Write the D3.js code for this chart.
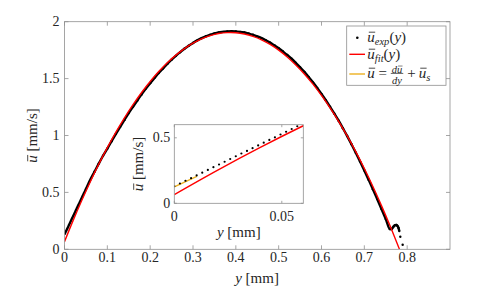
<!DOCTYPE html>
<html>
<head>
<meta charset="utf-8">
<script src="https://cdn.jsdelivr.net/npm/d3@7"></script>
<style>
  body { margin: 0; background: #fff; font-family: 'Liberation Serif', 'Times New Roman', serif; }
  svg { display: block; font-family: 'Liberation Serif', 'Times New Roman', serif; }
</style>
</head>
<body>
<div id="main"></div>
<script>
// fitted profile
const yFit = [0, 0.02, 0.04, 0.06, 0.08, 0.10, 0.12, 0.14, 0.16, 0.18, 0.20, 0.22, 0.24, 0.26, 0.28, 0.30,
  0.32, 0.34, 0.36, 0.38, 0.40, 0.42, 0.44, 0.46, 0.48, 0.50, 0.52, 0.54, 0.56, 0.58, 0.60, 0.62, 0.64,
  0.66, 0.68, 0.70, 0.72, 0.74, 0.76, 0.782]
const uFit = [0.067, 0.252, 0.427, 0.592, 0.748, 0.893, 1.029, 1.155, 1.271, 1.378, 1.475, 1.562, 1.639,
  1.706, 1.764, 1.811, 1.849, 1.877, 1.896, 1.904, 1.903, 1.892, 1.871, 1.841, 1.800, 1.750, 1.690, 1.620,
  1.541, 1.451, 1.352, 1.243, 1.125, 0.996, 0.858, 0.710, 0.552, 0.384, 0.207, 0.000]

// experimental points (dense near the wall, coarser elsewhere)
const yExp = [0, 0.0026, 0.0052, 0.0078, 0.0104, 0.013, 0.0156, 0.0182, 0.0208, 0.0234, 0.026, 0.0286,
  0.0312, 0.0338, 0.0364, 0.039, 0.0416, 0.0442, 0.0468, 0.0494, 0.052, 0.0546, 0.0572, 0.0598,
  0.07, 0.08, 0.09, 0.10, 0.11, 0.12, 0.13, 0.14, 0.15, 0.16, 0.17, 0.18, 0.19, 0.20, 0.21, 0.22, 0.23,
  0.24, 0.25, 0.26, 0.27, 0.28, 0.29, 0.30, 0.31, 0.32, 0.33, 0.34, 0.35, 0.36, 0.37, 0.38, 0.39, 0.40,
  0.41, 0.42, 0.43, 0.44, 0.45, 0.46, 0.47, 0.48, 0.49, 0.50, 0.51, 0.52, 0.53, 0.54, 0.55, 0.56, 0.57,
  0.58, 0.59, 0.60, 0.61, 0.62, 0.63, 0.64, 0.65, 0.66, 0.67, 0.68, 0.69, 0.70, 0.71, 0.72, 0.73, 0.74,
  0.75, 0.76, 0.7642, 0.7668, 0.7694, 0.772, 0.7746, 0.7772, 0.7798, 0.7816, 0.784, 0.7895]
const uExp = [0.130, 0.151, 0.172, 0.192, 0.213, 0.234, 0.255, 0.276, 0.296, 0.317, 0.338, 0.359,
  0.380, 0.400, 0.421, 0.442, 0.463, 0.484, 0.504, 0.525, 0.546, 0.567, 0.588, 0.608,
  0.681, 0.753, 0.822, 0.885, 0.950, 1.014, 1.076, 1.137, 1.197, 1.253, 1.308, 1.361, 1.412, 1.460,
  1.505, 1.549, 1.589, 1.629, 1.666, 1.700, 1.732, 1.762, 1.789, 1.813, 1.836, 1.855, 1.872, 1.885,
  1.897, 1.906, 1.911, 1.915, 1.916, 1.915, 1.911, 1.905, 1.896, 1.885, 1.871, 1.856, 1.837, 1.816,
  1.792, 1.767, 1.738, 1.708, 1.675, 1.638, 1.600, 1.559, 1.514, 1.467, 1.418, 1.365, 1.310, 1.252,
  1.192, 1.130, 1.064, 0.995, 0.923, 0.849, 0.772, 0.693, 0.611, 0.528, 0.442, 0.355, 0.267, 0.177,
  0.178, 0.193, 0.205, 0.212, 0.213, 0.206, 0.188, 0.160, 0.110, 0.040]

// linear wall fit  u = du/dy * y + u_s
const yLin = [0, 0.0105]
const uLin = [0.125, 0.206]

const xTicks = [0, 0.1, 0.2, 0.3, 0.4, 0.5, 0.6, 0.7, 0.8]
const yTicks = [0, 0.5, 1, 1.5, 2]
const insetXTicks = [0, 0.05]
const insetYTicks = [0, 0.5]

const W = 498, H = 291
const RED = '#ff0000', ORANGE = '#EDB120', AXIS = '#8f8f8f', INK = '#262626'
const FONT = "'Liberation Serif', 'Times New Roman', serif"

const svg = d3.select('#main').append('svg').attr('width', W).attr('height', H)
  .attr('font-family', FONT)

function txt(g, s, size, italic) {
  const t = g.append('text')
    .attr('font-family', FONT)
    .style('font-family', FONT)
    .style('font-size', size + 'px')
    .style('fill', INK)
    .text(s)
  if (italic) t.style('font-style', 'italic')
  return t
}

// little math typesetter: pieces laid out left to right
function mathText(g, parts, x0, y0, size) {
  let cx = x0
  parts.forEach(p => {
    if (p.frac) {
      const fs = size * 0.7
      const gn = g.append('g'), gd = g.append('g')
      const wn = mathText(gn, p.frac[0], 0, y0 - size * 0.33, fs)
      const wd = mathText(gd, p.frac[1], 0, y0 + size * 0.42, fs)
      const w = Math.max(wn, wd) + 2
      gn.attr('transform', `translate(${cx + (w - wn) / 2},0)`)
      gd.attr('transform', `translate(${cx + (w - wd) / 2},0)`)
      g.append('line').attr('x1', cx).attr('x2', cx + w)
        .attr('y1', y0 - size * 0.27).attr('y2', y0 - size * 0.27)
        .attr('stroke', INK).attr('stroke-width', 0.7)
      cx += w + 1
      return
    }
    if (p.space) { cx += p.space * size; return }
    const fs = p.sub ? size * 0.7 : size
    const ty = p.sub ? y0 + size * 0.2 : y0
    const t = txt(g, p.t, fs, p.i).attr('x', cx).attr('y', ty)
    const w = t.node().getComputedTextLength()
    if (p.bar) {
      g.append('line').attr('x1', cx + w * 0.2).attr('x2', cx + w * 1.05)
        .attr('y1', ty - fs * 0.62).attr('y2', ty - fs * 0.62)
        .attr('stroke', INK).attr('stroke-width', fs * 0.055)
    }
    cx += w
  })
  return cx - x0
}

function centered(g, parts, cx, y, size) {
  const inner = g.append('g')
  const w = mathText(inner, parts, 0, y, size)
  inner.attr('transform', `translate(${cx - w / 2},0)`)
  return inner
}

const uBar = {t: 'u', i: 1, bar: 1}
const yLabel = [uBar, {space: 0.25}, {t: '[mm/s]'}]
const xLabel = [{t: 'y', i: 1}, {space: 0.25}, {t: '[mm]'}]

function drawAxes(g, x, y, xt, yt, tl, padX, padY, size) {
  const [x0, x1] = x.range(), [y0, y1] = y.range()
  const ax = g.append('g')
  xt.forEach(v => {
    ax.append('line').attr('x1', x(v)).attr('x2', x(v)).attr('y1', y0).attr('y2', y0 - tl)
    ax.append('line').attr('x1', x(v)).attr('x2', x(v)).attr('y1', y1).attr('y2', y1 + tl)
    txt(g, String(v), size).attr('x', x(v)).attr('y', y0 + padX).attr('dy', '0.68em')
      .attr('text-anchor', 'middle')
  })
  yt.forEach(v => {
    ax.append('line').attr('x1', x0).attr('x2', x0 + tl).attr('y1', y(v)).attr('y2', y(v))
    ax.append('line').attr('x1', x1).attr('x2', x1 - tl).attr('y1', y(v)).attr('y2', y(v))
    txt(g, String(v), size).attr('x', x0 - padY).attr('y', y(v)).attr('dy', '0.33em')
      .attr('text-anchor', 'end')
  })
  ax.append('rect').attr('x', x0).attr('y', y1).attr('width', x1 - x0).attr('height', y0 - y1)
    .attr('fill', 'none')
  ax.selectAll('line,rect').attr('stroke', AXIS).attr('stroke-width', 0.8)
}

// ---------- main axes ----------
const x = d3.scaleLinear().domain([0, 0.9]).range([64.5, 450])
const y = d3.scaleLinear().domain([0, 2]).range([249.3, 21.7])

svg.append('clipPath').attr('id', 'clipMain').append('rect')
  .attr('x', 64.5).attr('y', 21.7).attr('width', 450 - 64.5).attr('height', 249.3 - 21.7)

const expPts = yExp.map((v, i) => [v, uExp[i]])
const fitPts = yFit.map((v, i) => [v, uFit[i]])
const linPts = yLin.map((v, i) => [v, uLin[i]])

const plot = svg.append('g').attr('clip-path', 'url(#clipMain)')
const lineMain = d3.line().x(d => x(d[0])).y(d => y(d[1]))

// dense dots look like a thick band
plot.append('path').datum(expPts.filter(d => d[0] <= 0.7816))
  .attr('d', lineMain.curve(d3.curveMonotoneX)).attr('fill', 'none')
  .attr('stroke', '#000').attr('stroke-width', 2.4)
plot.selectAll('circle.exp').data(expPts.filter(d => d[0] > 0.06)).enter().append('circle')
  .attr('cx', d => x(d[0])).attr('cy', d => y(d[1])).attr('r', 1.2).attr('fill', '#000')
plot.append('path').datum(fitPts)
  .attr('d', d3.line().x(d => x(d[0])).y(d => y(d[1])).curve(d3.curveCatmullRom))
  .attr('fill', 'none').attr('stroke', RED).attr('stroke-width', 1.4)

drawAxes(svg, x, y, xTicks, yTicks, 4, 3, 5, 14)
centered(svg, xLabel, 257, 283, 15)
const yl = svg.append('g').attr('transform', 'translate(37,135.5) rotate(-90)')
centered(yl, yLabel, 0, 0, 15)

// ---------- legend ----------
const lg = svg.append('g')
lg.append('rect').attr('x', 346.7).attr('y', 26).attr('width', 99.3).attr('height', 59.3)
  .attr('fill', '#fff').attr('stroke', AXIS).attr('stroke-width', 0.8)
lg.append('circle').attr('cx', 357.3).attr('cy', 37.7).attr('r', 1.3).attr('fill', '#000')
lg.append('line').attr('x1', 349.3).attr('x2', 365).attr('y1', 54.3).attr('y2', 54.3)
  .attr('stroke', RED).attr('stroke-width', 1.4)
lg.append('line').attr('x1', 349.3).attr('x2', 365).attr('y1', 74).attr('y2', 74)
  .attr('stroke', ORANGE).attr('stroke-width', 1.4)
mathText(lg, [uBar, {t: 'exp', i: 1, sub: 1}, {t: '('}, {t: 'y', i: 1}, {t: ')'}], 367.3, 41.5, 15)
mathText(lg, [uBar, {t: 'fit', i: 1, sub: 1}, {t: '('}, {t: 'y', i: 1}, {t: ')'}], 367.3, 58.5, 15)
mathText(lg, [uBar, {space: 0.25}, {t: '='}, {space: 0.25},
  {frac: [[{t: 'd', i: 1}, uBar], [{t: 'd', i: 1}, {t: 'y', i: 1}]]},
  {space: 0.2}, {t: '+'}, {space: 0.2}, uBar, {t: 's', i: 1, sub: 1}], 367.3, 77.5, 15)

// ---------- inset ----------
const xi = d3.scaleLinear().domain([0, 0.06]).range([174.3, 303.3])
const yi = d3.scaleLinear().domain([0, 0.6]).range([203.3, 124.7])

svg.append('rect').attr('x', 174.3).attr('y', 124.7).attr('width', 129).attr('height', 78.6)
  .attr('fill', '#fff')
svg.append('clipPath').attr('id', 'clipInset').append('rect')
  .attr('x', 174.3).attr('y', 124.7).attr('width', 129).attr('height', 78.6)

const ins = svg.append('g').attr('clip-path', 'url(#clipInset)')
const lineInset = d3.line().x(d => xi(d[0])).y(d => yi(d[1]))
ins.append('path').datum(fitPts).attr('d', lineInset.curve(d3.curveCatmullRom))
  .attr('fill', 'none').attr('stroke', RED).attr('stroke-width', 1.4)
ins.append('path').datum(linPts).attr('d', d3.line().x(d => xi(d[0])).y(d => yi(d[1])))
  .attr('fill', 'none').attr('stroke', ORANGE).attr('stroke-width', 1.4)
ins.selectAll('circle').data(expPts.filter(d => d[0] <= 0.06 && d[1] <= 0.6)).enter().append('circle')
  .attr('cx', d => xi(d[0])).attr('cy', d => yi(d[1])).attr('r', 1.1).attr('fill', '#000')

drawAxes(svg, xi, yi, insetXTicks, insetYTicks, 2.5, 8, 4, 14)
centered(svg, xLabel, 238.8, 237, 15)
const yli = svg.append('g').attr('transform', 'translate(143,164) rotate(-90)')
centered(yli, yLabel, 0, 0, 15)
</script>
</body>
</html>
